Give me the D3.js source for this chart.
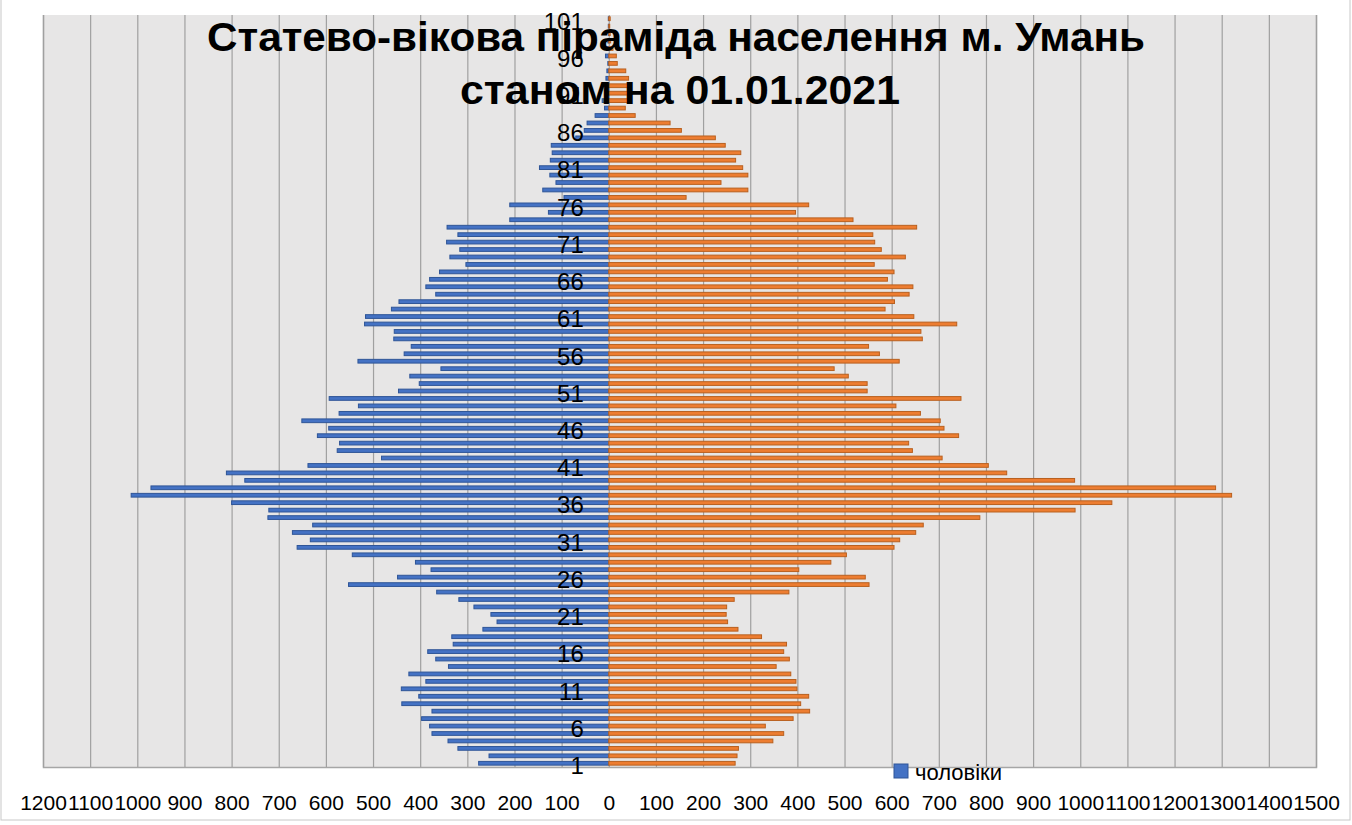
<!DOCTYPE html>
<html>
<head>
<meta charset="utf-8">
<script src="https://cdn.jsdelivr.net/npm/d3@7"></script>
<style>
  body { margin: 0; background: #fff; }
  svg { display: block; font-family: "Liberation Sans", Arial, sans-serif; }
</style>
</head>
<body>
<div id="chart"></div>
<script>
'use strict';

// age groups, bottom to top
var ages = [1, 2, 3, 4, 5, 6, 7, 8, 9, 10, 11, 12, 13, 14, 15, 16, 17, 18, 19, 20,
    21, 22, 23, 24, 25, 26, 27, 28, 29, 30, 31, 32, 33, 34, 35, 36, 37, 38, 39, 40,
    41, 42, 43, 44, 45, 46, 47, 48, 49, 50, 51, 52, 53, 54, 55, 56, 57, 58, 59, 60,
    61, 62, 63, 64, 65, 66, 67, 68, 69, 70, 71, 72, 73, 74, 75, 76, 77, 78, 79, 80,
    81, 82, 83, 84, 85, 86, 87, 88, 89, 90, 91, 92, 93, 94, 95, 96, 97, 98, 99, 100, 101];

// чоловіки (drawn to the left)
var males = [276, 254, 320, 341, 375, 380, 397, 375, 439, 403, 440, 388, 424, 340, 367, 384, 330, 333, 267, 237,
    250, 286, 318, 365, 552, 448, 377, 410, 544, 661, 633, 671, 628, 723, 721, 800, 1013, 971, 772, 811,
    638, 482, 576, 571, 618, 594, 651, 572, 531, 593, 446, 402, 422, 356, 532, 434, 419, 456, 455, 518,
    516, 461, 445, 367, 388, 380, 359, 303, 337, 316, 344, 320, 343, 210, 128, 210, 95, 140, 112, 125,
    147, 124, 120, 122, 70, 52, 46, 29, 9, 14, 6, 6, 6, 4, 2, 7, 4, 2, 1, 1, 1];

// жінки (drawn to the right)
var females = [268, 272, 275, 348, 371, 332, 391, 426, 407, 424, 399, 397, 386, 355, 383, 371, 377, 324, 274, 252,
    249, 250, 266, 382, 552, 544, 403, 471, 504, 605, 617, 651, 667, 787, 989, 1067, 1321, 1287, 988, 844,
    805, 707, 644, 636, 742, 711, 703, 661, 609, 747, 548, 548, 508, 478, 616, 574, 551, 665, 662, 738,
    647, 586, 606, 637, 645, 591, 605, 563, 629, 578, 564, 560, 653, 518, 396, 424, 164, 295, 238, 295,
    284, 269, 280, 247, 226, 154, 130, 56, 35, 42, 45, 46, 42, 36, 18, 16, 9, 4, 3, 2, 3];

var ageLabels = [1, 6, 11, 16, 21, 26, 31, 36, 41, 46, 51, 56, 61, 66, 71, 76, 81, 86, 91, 96, 101];
var xTicks = [-1200, -1100, -1000, -900, -800, -700, -600, -500, -400, -300, -200, -100, 0,
    100, 200, 300, 400, 500, 600, 700, 800, 900, 1000, 1100, 1200, 1300, 1400, 1500];

var titleLines = ["Статево-вікова піраміда населення м. Умань", "станом на 01.01.2021"];
var legendLabel = "чоловіки";

var width = 1352, height = 825;
var plot = {left: 43, right: 1316, top: 15, bottom: 767};

var svg = d3.select("#chart")
            .append("svg")
            .attr("width", width)
            .attr("height", height);

// outer chart border
svg.append("rect")
   .attr("x", 1).attr("y", -2)
   .attr("width", width - 3).attr("height", height - 3)
   .attr("fill", "#fff")
   .attr("stroke", "#c8c8c8");

var x = d3.scaleLinear()
          .domain([xTicks[0], xTicks[xTicks.length - 1]])
          .range([plot.left, plot.right]);

var y = d3.scaleBand()
          .domain(ages)
          .range([plot.bottom, plot.top])
          .paddingInner(0.5)
          .paddingOuter(0.25);

// plot area
svg.append("rect")
   .attr("x", plot.left).attr("y", plot.top)
   .attr("width", plot.right - plot.left).attr("height", plot.bottom - plot.top)
   .attr("fill", "#e7e6e6");

// vertical gridlines
var grid = svg.append("g")
              .attr("transform", "translate(0," + plot.bottom + ")")
              .call(d3.axisBottom(x).tickValues(xTicks).tickSize(-(plot.bottom - plot.top)).tickFormat(""));
grid.select(".domain").attr("stroke", "#a6a6a6").attr("stroke-width", 1.5);
grid.selectAll(".tick line").attr("stroke", "#a0a0a0").attr("stroke-width", 1.2);

// bars, both series share the same band
var bars = svg.append("g");

bars.selectAll("rect.male")
    .data(ages)
    .enter()
    .append("rect")
    .attr("class", "male")
    .attr("x", (d, i) => x(-males[i]))
    .attr("y", d => y(d))
    .attr("width", (d, i) => x(0) - x(-males[i]))
    .attr("height", y.bandwidth())
    .attr("fill", "#4472c4")
    .attr("stroke", "#2f5597")
    .attr("stroke-width", 1);

bars.selectAll("rect.female")
    .data(ages)
    .enter()
    .append("rect")
    .attr("class", "female")
    .attr("x", x(0))
    .attr("y", d => y(d))
    .attr("width", (d, i) => x(females[i]) - x(0))
    .attr("height", y.bandwidth())
    .attr("fill", "#ed7d31")
    .attr("stroke", "#b9601f")
    .attr("stroke-width", 1);

// bottom value labels, shown without sign
var xAxis = svg.append("g")
               .attr("transform", "translate(0," + plot.bottom + ")")
               .call(d3.axisBottom(x).tickValues(xTicks).tickSize(0).tickPadding(28).tickFormat(d => Math.abs(d)));
xAxis.select(".domain").remove();
xAxis.selectAll("text")
     .attr("font-family", "Liberation Sans, Arial, sans-serif")
     .attr("font-size", 21)
     .attr("fill", "#000");

// age labels next to the zero line
var yAxis = svg.append("g")
               .attr("transform", "translate(" + (x(0) - 17) + ",0)")
               .call(d3.axisLeft(y).tickValues(ageLabels).tickSize(0).tickPadding(8));
yAxis.select(".domain").remove();
yAxis.selectAll("text")
     .attr("font-family", "Liberation Sans, Arial, sans-serif")
     .attr("font-size", 24)
     .attr("dy", "0.45em")
     .attr("fill", "#000");

// title on top of the plot
var titleWidths = [938, 440];
var titleBase = [51, 104];
svg.selectAll("text.title")
   .data(titleLines)
   .enter()
   .append("text")
   .attr("class", "title")
   .attr("x", (d, i) => i == 0 ? 676 : 680)
   .attr("y", (d, i) => titleBase[i])
   .attr("text-anchor", "middle")
   .attr("font-family", "Liberation Sans, Arial, sans-serif")
   .attr("font-weight", "bold")
   .attr("font-size", 41)
   .attr("textLength", (d, i) => titleWidths[i])
   .attr("lengthAdjust", "spacingAndGlyphs")
   .attr("fill", "#000")
   .text(d => d);

// legend (only the male entry is visible)
var legend = svg.append("g").attr("transform", "translate(894,764)");
legend.append("rect")
      .attr("width", 14).attr("height", 14)
      .attr("fill", "#4472c4")
      .attr("stroke", "#2f5597");
legend.append("text")
      .attr("x", 21).attr("y", 16)
      .attr("font-family", "Liberation Sans, Arial, sans-serif")
      .attr("font-size", 22)
      .attr("fill", "#000")
      .text(legendLabel);
</script>
</body>
</html>
